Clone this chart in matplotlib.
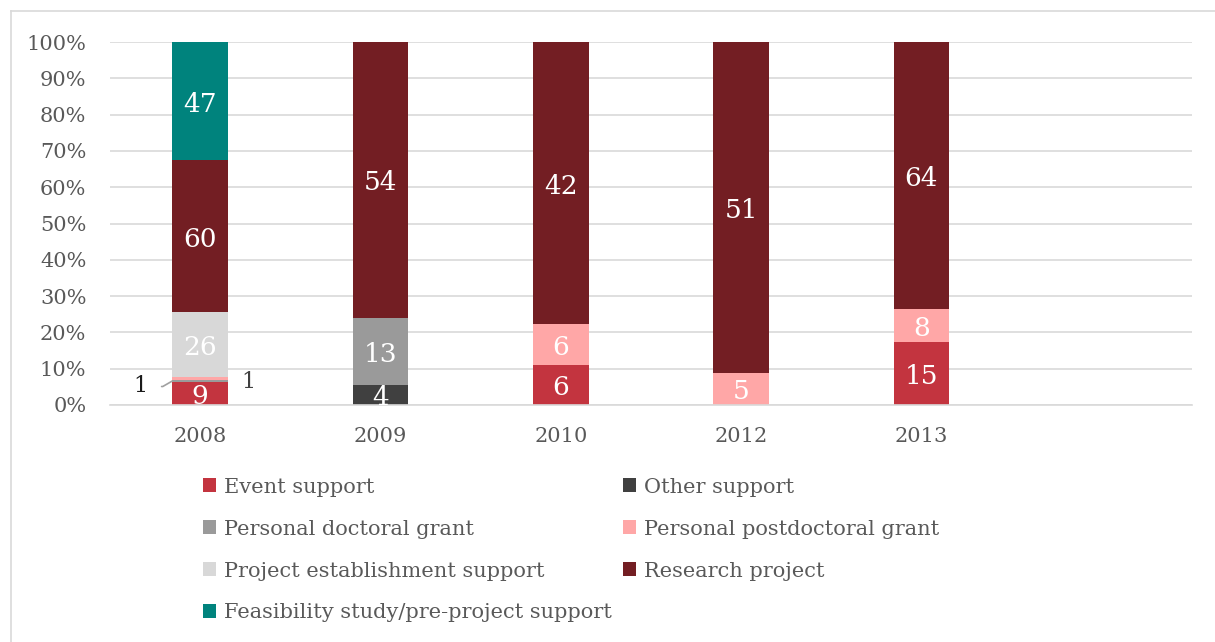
import matplotlib.pyplot as plt
from matplotlib.patches import Patch
from matplotlib.lines import Line2D
import numpy as np

plt.rcParams['font.family'] = ['DejaVu Serif']

years = ['2008', '2009', '2010', '2012', '2013', '']
series = [
    'Event support',
    'Other support',
    'Personal doctoral grant',
    'Personal postdoctoral grant',
    'Project establishment support',
    'Research project',
    'Feasibility study/pre-project support',
]
# counts per year (last slot is an empty category)
event = [9, 0, 6, 0, 15, 0]
other = [0, 4, 0, 0, 0, 0]
doctoral = [1, 13, 0, 0, 0, 0]
postdoc = [1, 0, 6, 5, 8, 0]
establish = [26, 0, 0, 0, 0, 0]
research = [60, 54, 42, 51, 64, 0]
feasibility = [47, 0, 0, 0, 0, 0]

colors = ['#C3343F', '#404040', '#9A9A9A', '#FFA7A7', '#D8D8D8', '#731E23', '#00837D']

data = np.array([event, other, doctoral, postdoc, establish, research, feasibility], dtype=float)
totals = data.sum(axis=0)
pct = np.divide(data, totals, out=np.zeros_like(data), where=totals > 0) * 100

fig = plt.figure(figsize=(12.15, 6.42), dpi=100)
ax = fig.add_axes([110 / 1215, 1 - 405 / 642, 1082 / 1215, 363 / 642])

x = np.arange(len(years))
bottom = np.zeros(len(years))
for i, name in enumerate(series):
    ax.bar(x, pct[i], 0.31, bottom=bottom, color=colors[i], label=name, zorder=2)
    for j in range(len(years)):
        n = data[i, j]
        if n <= 1:
            continue
        yc = bottom[j] + pct[i, j] / 2 - 0.8
        ax.text(x[j], yc, f'{int(n)}', ha='center', va='center', color='white',
                fontsize=19, zorder=3, clip_on=True)
    bottom += pct[i]

# small segments in 2008, labelled outside the bar
yd = pct[0, 0] + pct[1, 0] + pct[2, 0] / 2
ax.annotate('1', xy=(x[0] - 0.155, yd), xytext=(x[0] - 0.33, yd - 1.5),
            ha='center', va='center', fontsize=16, color='#1a1a1a',
            arrowprops=dict(arrowstyle='-', color='#A0A0A0', lw=1.2,
                            connectionstyle='angle,angleA=0,angleB=30,rad=0',
                            shrinkA=8, shrinkB=0))
yp = pct[0, 0] + pct[1, 0] + pct[2, 0] + pct[3, 0] / 2
ax.text(x[0] + 0.27, yp - 1.0, '1', ha='center', va='center', fontsize=16, color='#404040')

ax.set_xlim(-0.5, len(years) - 0.5)
ax.set_ylim(0, 100)
ax.set_xticks(x)
ax.set_xticklabels(years, fontsize=15, color='#595959')
ax.set_yticks(np.arange(0, 101, 10))
ax.set_yticklabels([f'{v}%' for v in range(0, 101, 10)], fontsize=15, color='#595959')
ax.tick_params(length=0)
ax.tick_params(axis='y', pad=17)
ax.tick_params(axis='x', pad=16)
ax.yaxis.grid(True, color='#D9D9D9', lw=1.2, zorder=0)
for s in ['top', 'right', 'left']:
    ax.spines[s].set_visible(False)
ax.spines['bottom'].set_color('#D9D9D9')
ax.spines['bottom'].set_linewidth(1.2)

handles = [Patch(facecolor=c, edgecolor='none') for c in colors]
order = [0, 2, 4, 6, 1, 3, 5]
fig.legend([handles[k] for k in order], [series[k] for k in order],
           loc='upper left', bbox_to_anchor=(184 / 1215, 1 - 459 / 642), ncol=2,
           frameon=False, fontsize=15, handlelength=0.65, handleheight=0.65,
           handletextpad=0.35, labelspacing=1.1, columnspacing=0.55,
           labelcolor='#595959')

# chart frame (top and left edges visible)
fig.add_artist(Line2D([11 / 1215, 1], [1 - 11 / 642, 1 - 11 / 642], color='#D9D9D9', lw=1.2))
fig.add_artist(Line2D([11 / 1215, 11 / 1215], [0, 1 - 11 / 642], color='#D9D9D9', lw=1.2))

fig.savefig('out.png', dpi=100)
